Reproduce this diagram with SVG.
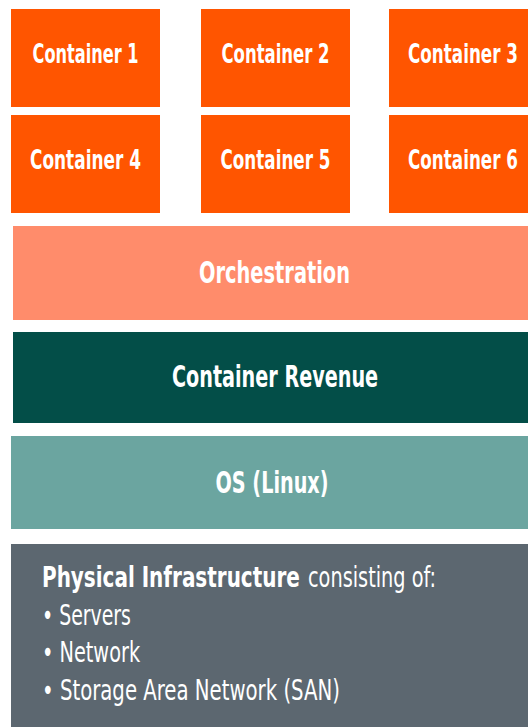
<svg xmlns="http://www.w3.org/2000/svg" width="528" height="727" viewBox="0 0 528 727">
  <style>
    text { font-family: "Liberation Sans Narrow", "DejaVu Sans Condensed", Roboto, sans-serif; fill: #ffffff; }
    .box { fill: #ff5500; }
    .lbl { font-size: 27px; font-weight: bold; text-anchor: middle; }
    .band { font-size: 30px; font-weight: bold; text-anchor: middle; }
    .b { font-size: 29px; font-weight: bold; }
    .r { font-size: 29px; font-weight: normal; }
  </style>
  <rect width="528" height="727" fill="#ffffff"/>

  <!-- container grid: labels are narrowed horizontally to a tall, condensed look -->
  <g id="container1"><rect class="box" x="11" y="9" width="149" height="98"/><text class="lbl" transform="translate(85.5,63) scale(0.665,1)" textLength="159.3" lengthAdjust="spacingAndGlyphs">Container 1</text></g>
  <g id="container2"><rect class="box" x="201" y="9" width="149" height="98"/><text class="lbl" transform="translate(275.5,63) scale(0.678,1)" textLength="159.3" lengthAdjust="spacingAndGlyphs">Container 2</text></g>
  <g id="container3"><rect class="box" x="389" y="9" width="139" height="98"/><text class="lbl" transform="translate(463,63) scale(0.69,1)" textLength="159.3" lengthAdjust="spacingAndGlyphs">Container 3</text></g>
  <g id="container4"><rect class="box" x="11" y="115" width="149" height="98"/><text class="lbl" transform="translate(85.5,169) scale(0.697,1)" textLength="159.3" lengthAdjust="spacingAndGlyphs">Container 4</text></g>
  <g id="container5"><rect class="box" x="201" y="115" width="149" height="98"/><text class="lbl" transform="translate(275.5,169) scale(0.69,1)" textLength="159.3" lengthAdjust="spacingAndGlyphs">Container 5</text></g>
  <g id="container6"><rect class="box" x="389" y="115" width="139" height="98"/><text class="lbl" transform="translate(463,169) scale(0.69,1)" textLength="159.3" lengthAdjust="spacingAndGlyphs">Container 6</text></g>

  <!-- stacked layers -->
  <g id="orchestration"><rect x="13" y="226" width="515" height="94" fill="#ff8c6b"/><text class="band" transform="translate(274.5,283) scale(0.718,1)" textLength="210.3" lengthAdjust="spacingAndGlyphs">Orchestration</text></g>
  <g id="container-revenue"><rect x="13" y="332" width="515" height="91" fill="#034e48"/><text class="band" transform="translate(275,387) scale(0.711,1)" textLength="289.9" lengthAdjust="spacingAndGlyphs">Container Revenue</text></g>
  <g id="os"><rect x="11" y="436" width="517" height="93" fill="#6ba5a0"/><text class="band" transform="translate(272,493) scale(0.711,1)" textLength="158.9" lengthAdjust="spacingAndGlyphs">OS (Linux)</text></g>

  <g id="physical-infrastructure">
    <rect x="11" y="544" width="517" height="183" fill="#5c6770"/>
    <text class="b" transform="translate(42,587) scale(0.765,1)" textLength="337.1" lengthAdjust="spacingAndGlyphs">Physical Infrastructure</text>
    <text class="r" transform="translate(308,587) scale(0.735,1)" textLength="174.2" lengthAdjust="spacingAndGlyphs">consisting of:</text>
    <text class="r" transform="translate(42,625) scale(0.724,1)" textLength="122.9" lengthAdjust="spacingAndGlyphs">• Servers</text>
    <text class="r" transform="translate(42,662) scale(0.739,1)" textLength="132.7" lengthAdjust="spacingAndGlyphs">• Network</text>
    <text class="r" transform="translate(42,700) scale(0.755,1)" textLength="394.6" lengthAdjust="spacingAndGlyphs">• Storage Area Network (SAN)</text>
  </g>
</svg>
